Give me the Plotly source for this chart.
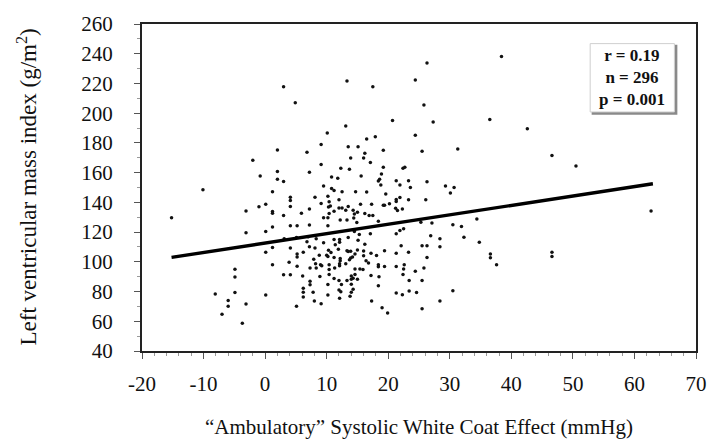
import plotly.graph_objects as go

wce_mmhg = [3.0, 4.9, 10.1, 9.1, 2.0, 6.8, -2.0, 9.1, 2.0, 7.2,
38.4, 26.3, 13.3, 17.5, 24.4, 25.8, 20.7, 27.3, 36.5, 13.1,
17.9, 16.5, 24.4, 13.5, 15.1, 19.2, 25.5, 31.3, 16.2, 13.9,
16.0, 17.1, 12.3, 13.7, 19.2, 22.4, 22.7, 18.9, 42.6, 46.6,
50.5, -0.8, -10.1, -15.2, -3.1, -1.0, 0.1, -3.1, 0.1, 0.1,
-4.9, -4.9, -8.1, -4.9, 0.1, -6.0, -6.0, -3.1, -7.0, -3.7,
2.0, 3.0, 10.8, 11.8, 9.5, 10.8, 11.2, 12.5, 14.7, 1.2,
4.1, 4.1, 4.1, 8.1, 10.2, 12.0, 9.1, 10.4, 10.6, 10.3,
1.2, 1.2, 3.0, 5.9, 7.2, 12.0, 12.5, 13.5, 13.1, 14.3,
14.5, 11.2, 10.4, 9.5, 10.2, 12.2, 13.3, 14.4, 15.6, 18.6,
18.4, 18.8, 21.3, 23.3, 21.9, 23.6, 26.3, 29.3, 16.5, 19.6,
21.9, 21.3, 21.3, 23.3, 26.1, 15.5, 17.3, 19.2, 19.4, 20.2,
21.2, 21.5, 22.3, 15.0, 16.2, 16.9, 17.5, 18.4, 14.9, 25.3,
27.1, 1.2, 4.1, 5.2, 7.2, 10.2, 14.5, 3.1, 5.1, 7.0,
8.3, 11.2, 12.1, 12.1, 13.5, 9.5, 11.4, 6.8, 1.2, 4.1,
7.2, 8.1, 11.9, 13.3, 6.2, 10.3, 10.7, 13.9, 5.2, 5.2,
8.8, 10.0, 10.2, 7.9, 12.2, 12.2, 11.2, 13.7, 13.9, 3.9,
8.2, 9.0, 9.2, 10.4, 12.1, 12.1, 13.1, 1.2, 5.2, 7.3,
8.3, 10.4, 11.3, 14.6, 3.0, 4.1, 6.1, 8.9, 10.4, 11.2,
12.0, 13.3, 14.0, 14.3, 7.3, 7.3, 10.2, 12.4, 14.0, 6.2,
6.2, 6.2, 12.0, 12.3, 7.8, 10.2, 13.8, 12.1, 8.0, 9.1,
5.1, 21.9, 22.5, 21.3, 15.3, 17.1, 26.9, 28.4, 28.4, 15.1,
22.1, 25.5, 26.3, 16.2, 13.5, 15.0, 14.6, 14.2, 16.0, 16.0,
17.2, 18.1, 19.4, 21.3, 23.3, 26.3, 16.4, 16.8, 18.4, 18.4,
15.4, 15.9, 19.4, 21.3, 22.6, 22.5, 24.4, 25.8, 17.2, 18.5,
22.4, 14.6, 14.0, 15.0, 23.4, 25.5, 14.3, 14.0, 18.4, 23.4,
21.3, 22.3, 24.6, 17.3, 28.4, 25.5, 19.0, 19.9, 30.7, 30.1,
34.4, 30.5, 31.9, 32.3, 34.8, 36.6, 36.6, 37.6, 46.6, 46.6,
62.7, 30.5]

lvmi = [217.8, 207.1, 186.7, 179.0, 175.3, 173.7, 168.3, 165.4, 160.8, 160.2,
238.2, 233.8, 221.7, 217.8, 222.4, 205.5, 195.0, 194.1, 195.7, 191.3,
184.2, 182.7, 185.2, 177.5, 177.5, 175.0, 174.4, 175.9, 173.1, 169.8,
169.8, 166.9, 163.0, 162.3, 163.6, 163.0, 163.6, 159.0, 189.5, 171.5,
164.5, 157.7, 148.5, 129.6, 134.2, 137.1, 138.7, 119.6, 120.4, 106.4,
95.0, 89.8, 78.3, 79.3, 77.7, 74.0, 70.1, 71.6, 64.8, 58.6,
155.6, 154.0, 157.1, 156.2, 151.0, 149.4, 147.9, 147.2, 147.2, 147.2,
143.5, 141.3, 137.3, 143.5, 144.1, 141.7, 139.3, 140.4, 137.5, 136.9,
133.9, 132.7, 131.2, 132.7, 135.6, 136.2, 136.2, 137.3, 134.7, 134.7,
132.1, 134.0, 132.5, 129.6, 129.6, 128.1, 128.1, 129.4, 157.7, 155.6,
154.4, 151.6, 154.6, 154.6, 151.6, 150.0, 153.8, 151.0, 147.0, 145.7,
143.3, 141.9, 140.6, 141.7, 141.7, 138.7, 138.7, 138.0, 138.0, 139.1,
136.0, 134.5, 135.6, 133.4, 132.5, 131.2, 131.2, 127.3, 126.4, 126.6,
126.2, 123.5, 124.2, 124.2, 124.8, 124.2, 120.4, 115.6, 116.3, 116.8,
115.6, 115.0, 115.0, 113.2, 116.3, 112.8, 111.5, 113.5, 109.7, 109.3,
110.2, 109.3, 108.4, 107.5, 106.4, 107.7, 106.2, 107.1, 105.3, 103.3,
104.5, 104.5, 103.6, 101.8, 102.3, 100.7, 102.9, 101.4, 102.5, 99.7,
98.7, 98.1, 97.4, 98.1, 98.7, 97.4, 98.7, 98.1, 97.0, 95.9,
95.9, 94.8, 95.9, 95.2, 91.3, 91.3, 90.4, 90.2, 91.5, 88.7,
87.5, 87.4, 90.4, 88.9, 86.9, 84.5, 84.7, 84.7, 84.9, 82.3,
79.5, 76.4, 81.0, 79.9, 79.5, 77.7, 76.8, 75.5, 73.7, 71.8,
70.1, 121.1, 122.2, 118.9, 118.3, 118.9, 117.6, 115.6, 110.2, 114.5,
110.8, 110.8, 110.8, 111.9, 106.9, 107.9, 105.3, 103.3, 107.3, 104.0,
105.8, 104.3, 107.5, 105.8, 106.4, 102.9, 100.7, 99.2, 98.1, 96.6,
95.2, 94.8, 96.8, 96.8, 98.1, 95.2, 93.7, 95.9, 90.8, 90.0,
91.5, 91.5, 88.2, 88.2, 87.4, 87.4, 81.6, 79.5, 83.9, 80.3,
79.0, 77.9, 79.3, 73.7, 73.7, 68.5, 69.1, 65.6, 150.0, 146.3,
128.8, 125.0, 123.7, 116.5, 113.2, 105.3, 102.7, 98.1, 106.4, 103.6,
134.2, 80.6]

fit_x = [-15.2, 63.0]
fit_y = [103.0, 152.5]

stat_r = "0.19"
stat_n = "296"
stat_p = "0.001"

x_ticks = [-20, -10, 0, 10, 20, 30, 40, 50, 60, 70]
y_ticks = [40, 60, 80, 100, 120, 140, 160, 180, 200, 220, 240, 260]

FONT = "Liberation Serif, Times New Roman, serif"

fig = go.Figure()
fig.add_trace(go.Scatter(x=wce_mmhg, y=lvmi, mode="markers",
                         marker=dict(size=3.5, color="#111111"),
                         showlegend=False, hoverinfo="skip"))
fig.add_trace(go.Scatter(x=fit_x, y=fit_y, mode="lines",
                         line=dict(color="black", width=3.4),
                         showlegend=False, hoverinfo="skip"))

axis_common = dict(showline=True, linecolor="#222222", linewidth=2, mirror=True,
                   showgrid=False, zeroline=False, ticks="outside", ticklen=6,
                   tickcolor="#555", tickwidth=1,
                   tickfont=dict(family=FONT, size=21, color="#111111"))

fig.update_xaxes(range=[-20, 70], tickvals=x_ticks, ticktext=[str(v) for v in x_ticks],
                 minor=dict(dtick=2, ticks="outside", ticklen=3, tickcolor="#999"),
                 ticklabelstandoff=7, **axis_common)
fig.update_yaxes(range=[40, 260], tickvals=y_ticks, ticktext=[str(v) for v in y_ticks],
                 minor=dict(dtick=10, ticks="outside", ticklen=3, tickcolor="#999"),
                 ticklabelstandoff=17, ticklabeloverflow="allow", **axis_common)

fig.add_annotation(text="\u201cAmbulatory\u201d Systolic White Coat Effect (mmHg)",
                   xref="paper", yref="paper", x=0.5, y=0, yshift=-76,
                   showarrow=False, font=dict(family=FONT, size=21, color="#111111"),
                   xanchor="center", yanchor="middle")
fig.add_annotation(text="Left ventricular mass index (g/m<sup>2</sup>)",
                   xref="paper", yref="paper", x=0, y=0.5, xshift=-115,
                   textangle=-90, showarrow=False,
                   font=dict(family=FONT, size=23, color="#111111"),
                   xanchor="center", yanchor="middle")

# stats box with shadow
fig.add_shape(type="rect", xref="paper", yref="paper",
              x0=0.813, x1=0.965, y0=0.725, y1=0.934,
              line=dict(color="#8a8a8a", width=1.5), fillcolor="#8a8a8a", layer="above")
fig.add_shape(type="rect", xref="paper", yref="paper",
              x0=0.809, x1=0.961, y0=0.731, y1=0.940,
              line=dict(color="#cfcfcf", width=1), fillcolor="white", layer="above")
fig.add_annotation(text=f"<b>r = {stat_r}</b><br><b>n = {stat_n}</b><br><b>p = {stat_p}</b>",
                   xref="paper", yref="paper", x=0.885, y=0.8355,
                   showarrow=False, align="center",
                   font=dict(family=FONT, size=17, color="#111111"),
                   xanchor="center", yanchor="middle")

fig.update_layout(width=719, height=441, margin=dict(l=142, r=17, t=16, b=90),
                  paper_bgcolor="white", plot_bgcolor="white")

# remove the browser's default 8px body margin so the figure sits at the page origin
fig.write_html("out.html", config={"displayModeBar": False},
               post_script="document.body.style.margin='0px';")
